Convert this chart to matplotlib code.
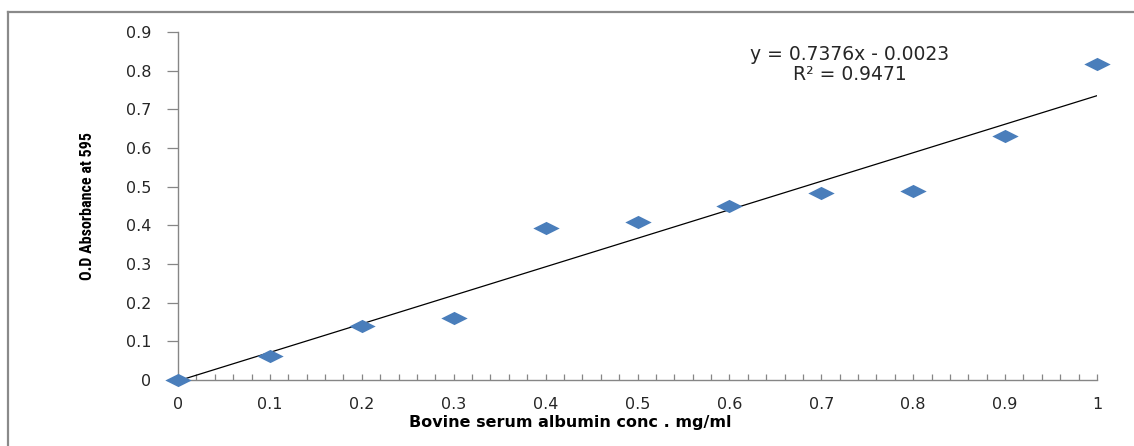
import matplotlib
matplotlib.use("Agg")
import matplotlib.pyplot as plt
from matplotlib.path import Path
from matplotlib.lines import Line2D
from matplotlib.ticker import MultipleLocator
from matplotlib import font_manager
import numpy as np

# Data
conc = [0.0, 0.1, 0.2, 0.3, 0.4, 0.5, 0.6, 0.7, 0.8, 0.9, 1.0]
absorbance = [0.0, 0.062, 0.140, 0.161, 0.392, 0.409, 0.450, 0.483, 0.490, 0.631, 0.818]
slope = 0.7376
intercept = -0.0023
eq_text = "y = 0.7376x - 0.0023"
r2_text = "R² = 0.9471"
x_ticks = [0, 0.1, 0.2, 0.3, 0.4, 0.5, 0.6, 0.7, 0.8, 0.9, 1.0]
x_tick_labels = ["0", "0.1", "0.2", "0.3", "0.4", "0.5", "0.6", "0.7", "0.8", "0.9", "1"]
y_ticks = [0, 0.1, 0.2, 0.3, 0.4, 0.5, 0.6, 0.7, 0.8, 0.9]
y_tick_labels = ["0", "0.1", "0.2", "0.3", "0.4", "0.5", "0.6", "0.7", "0.8", "0.9"]
x_label = "Bovine serum albumin conc . mg/ml"
y_label = "O.D Absorbance at 595"

W, H = 1134, 446
fig = plt.figure(figsize=(W / 100, H / 100), dpi=100)
fig.patch.set_facecolor("white")

ax = fig.add_axes([178 / W, 1 - 380 / H, (1097 - 178) / W, (380 - 32) / H])
ax.set_xlim(0, 1)
ax.set_ylim(0, 0.9)

# Outer chart frame (top and left edges visible)
frame_col = "#8a8a8a"
fig.add_artist(Line2D([8 / W, 1.0], [1 - 12 / H, 1 - 12 / H], transform=fig.transFigure,
                      color=frame_col, lw=1.6))
fig.add_artist(Line2D([8 / W, 8 / W], [0, 1 - 12 / H], transform=fig.transFigure,
                      color=frame_col, lw=1.6))

# Trendline
xs = np.array([0.0, 1.0])
ax.plot(xs, slope * xs + intercept, color="black", lw=0.9, zorder=2)

# Wide diamond marker
diamond = Path([(-1.0, 0.0), (0.0, 0.5), (1.0, 0.0), (0.0, -0.5), (-1.0, 0.0)],
               [Path.MOVETO, Path.LINETO, Path.LINETO, Path.LINETO, Path.CLOSEPOLY])
ax.plot(conc, absorbance, linestyle="none", marker=diamond, markersize=19,
        color="#4A7EBB", markeredgewidth=0, zorder=3, clip_on=False)

# Spines
for s in ["top", "right"]:
    ax.spines[s].set_visible(False)
for s in ["left", "bottom"]:
    ax.spines[s].set_color("#868686")
    ax.spines[s].set_linewidth(1.0)

tick_font = dict(family="DejaVu Sans", size=11.5, color="#262626")
ax.set_xticks(x_ticks)
ax.set_xticklabels(x_tick_labels, **tick_font)
ax.set_yticks(y_ticks)
ax.set_yticklabels(y_tick_labels, **tick_font)
ax.xaxis.set_minor_locator(MultipleLocator(0.02))
ax.tick_params(axis="x", which="both", direction="in", length=4, width=0.9,
               color="#868686", pad=12)
ax.tick_params(axis="y", which="major", direction="out", length=8, width=0.9,
               color="#868686", pad=11)

fig.text(570 / W, 1 - 423 / H, x_label, ha="center", va="center",
         family="DejaVu Sans", weight="bold", size=11.5, color="black")

# Narrow bold font for the y label, if available
narrow_family = None
names = {f.name for f in font_manager.fontManager.ttflist}
for cand in ["Liberation Sans Narrow", "Arial Narrow", "Roboto Condensed", "Open Sans Condensed"]:
    if cand in names:
        narrow_family = cand
        break
if narrow_family:
    fig.text(87 / W, 1 - 206 / H, y_label, rotation=90, ha="center", va="center",
             family=[narrow_family, "DejaVu Sans"], weight="bold", size=11.5, color="black")
else:
    fig.text(87 / W, 1 - 206 / H, y_label, rotation=90, ha="center", va="center",
             family="DejaVu Sans", stretch="condensed", weight="bold", size=10,
             color="black")

ax.text(850 / W, 1 - 55 / H, eq_text, transform=fig.transFigure, ha="center",
        va="center", family="DejaVu Sans", size=13.5, color="#262626")
ax.text(850 / W, 1 - 74 / H, r2_text, transform=fig.transFigure, ha="center",
        va="center", family="DejaVu Sans", size=13.5, color="#262626")

fig.savefig("out.png", dpi=100, facecolor="white")
